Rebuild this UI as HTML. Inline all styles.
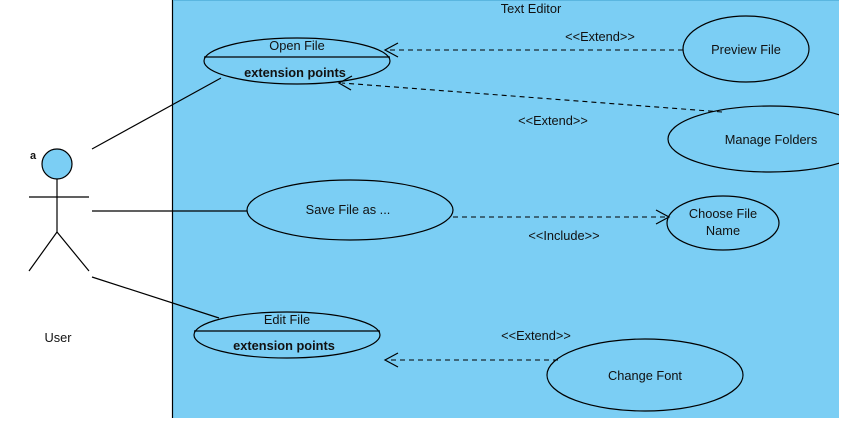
<!DOCTYPE html>
<html><head><style>body{margin:0;background:#fff}svg{display:block}text{font-family:"Liberation Sans",sans-serif;font-size:12.8px;fill:#111}</style></head><body>
<svg width="844" height="422" viewBox="0 0 844 422">
<defs><clipPath id="c"><rect x="172" y="0" width="667" height="418"/></clipPath></defs>
<rect x="172" y="0" width="667" height="418" fill="#7bcef4"/>
<line x1="172.5" y1="0" x2="172.5" y2="418" stroke="#000" stroke-width="1.2"/>
<rect x="173" y="0" width="666" height="1" fill="#5ab6e0"/>
<text x="531" y="13" text-anchor="middle">Text Editor</text>
<g fill="none" stroke="#000" stroke-width="1.2">
<line x1="92" y1="149" x2="221" y2="78"/>
<line x1="92" y1="211" x2="247" y2="211"/>
<line x1="92" y1="277" x2="219" y2="318"/>
<circle cx="57" cy="164" r="15" fill="#7bcef4"/>
<line x1="57" y1="179" x2="57" y2="232"/>
<line x1="29" y1="197" x2="89" y2="197"/>
<polyline points="29,271 57,232 89,271"/>
</g>
<text x="30" y="159" style="font-size:11px;font-weight:bold">a</text>
<text x="58" y="342" text-anchor="middle">User</text>
<g stroke="#000" stroke-width="1.2" fill="#7bcef4">
<ellipse cx="297" cy="61" rx="93" ry="23"/>
<line x1="204" y1="57" x2="390" y2="57"/>
<ellipse cx="746" cy="49" rx="63" ry="33"/>
<ellipse cx="770" cy="139" rx="102" ry="33" clip-path="url(#c)"/>
<ellipse cx="350" cy="210" rx="103" ry="30"/>
<ellipse cx="723" cy="223" rx="56" ry="27"/>
<ellipse cx="287" cy="335" rx="93" ry="23"/>
<line x1="194" y1="331" x2="380" y2="331"/>
<ellipse cx="645" cy="375" rx="98" ry="36"/>
</g>
<g fill="none" stroke="#000" stroke-width="1.1" stroke-dasharray="5,4">
<line x1="683" y1="50" x2="387" y2="50"/>
<line x1="722" y1="112" x2="342" y2="83"/>
<line x1="453" y1="217" x2="666" y2="217"/>
<line x1="558" y1="360" x2="387" y2="360"/>
</g>
<g fill="none" stroke="#000" stroke-width="1.2">
<polyline points="398,43 385,50 398,57"/>
<polyline points="352,76 339,83 351,90"/>
<polyline points="656,210 669,217 656,224"/>
<polyline points="398,353 385,360 398,367"/>
</g>
<text x="297" y="50" text-anchor="middle">Open File</text>
<text x="295" y="77" text-anchor="middle" style="font-weight:bold">extension points</text>
<text x="746" y="54" text-anchor="middle">Preview File</text>
<text x="771" y="144" text-anchor="middle">Manage Folders</text>
<text x="348" y="214" text-anchor="middle">Save File as ...</text>
<text x="723" y="218" text-anchor="middle">Choose File</text>
<text x="723" y="235" text-anchor="middle">Name</text>
<text x="287" y="324" text-anchor="middle">Edit File</text>
<text x="284" y="350" text-anchor="middle" style="font-weight:bold">extension points</text>
<text x="645" y="380" text-anchor="middle">Change Font</text>
<text x="600" y="41" text-anchor="middle">&lt;&lt;Extend&gt;&gt;</text>
<text x="553" y="125" text-anchor="middle">&lt;&lt;Extend&gt;&gt;</text>
<text x="564" y="240" text-anchor="middle">&lt;&lt;Include&gt;&gt;</text>
<text x="536" y="340" text-anchor="middle">&lt;&lt;Extend&gt;&gt;</text>
</svg>
</body></html>
